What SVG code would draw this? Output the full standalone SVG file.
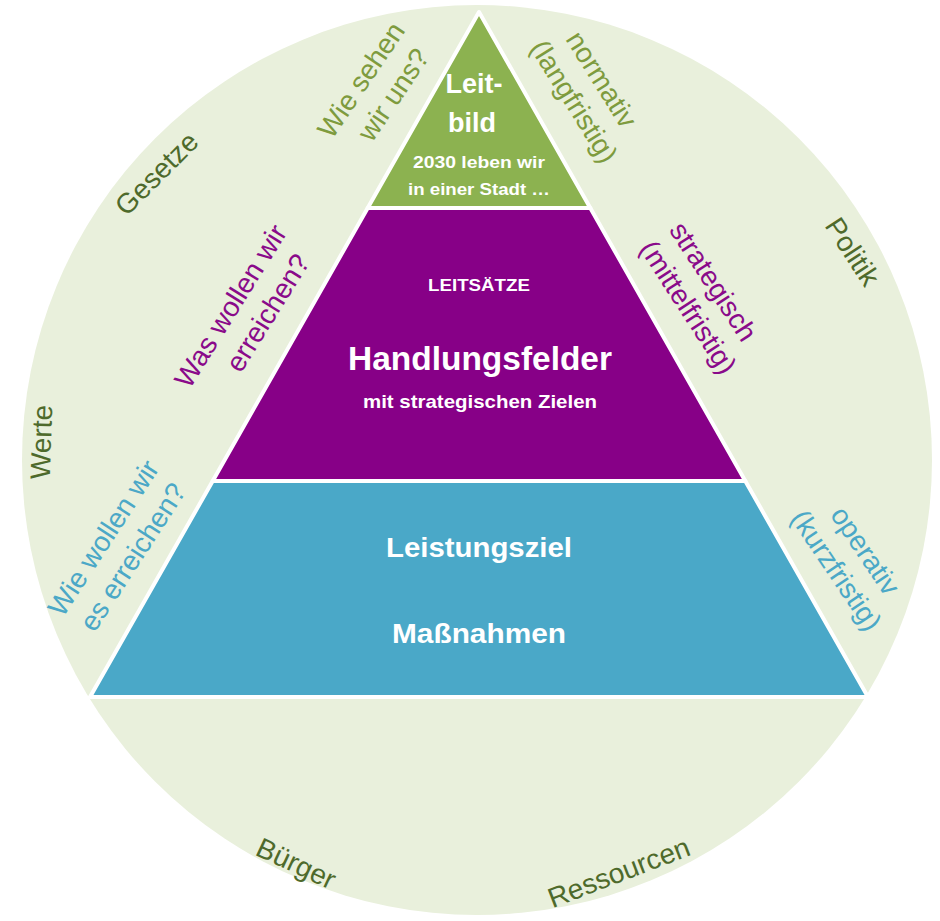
<svg xmlns="http://www.w3.org/2000/svg" width="940" height="921" viewBox="0 0 940 921">
<style>
.t{font-family:"Liberation Sans",Arial,sans-serif;}
.w{fill:#ffffff;font-weight:bold;text-anchor:middle;}
.o{fill:#4e6a2b;font-size:28px;text-anchor:middle;}
.q{font-size:28px;text-anchor:middle;}
.g{fill:#7e9b3e;}
.p{fill:#8a0a8a;}
.b{fill:#4ba8c7;}
.band{stroke:#ffffff;stroke-width:4;stroke-linejoin:round;}
</style>
<rect width="940" height="921" fill="#ffffff"/>
<g id="circle">
<circle cx="477" cy="460" r="455" fill="#e9f0dc"/>
</g>
<g id="leitbild">
<polygon class="band" points="479,12 590.3,208 367.7,208" fill="#8cb250"/>
<text class="t w" x="474" y="93" font-size="27">Leit-</text>
<text class="t w" x="472" y="132" font-size="27">bild</text>
<text class="t w" x="479" y="168" font-size="16" textLength="132" lengthAdjust="spacingAndGlyphs">2030 leben wir</text>
<text class="t w" x="479" y="195" font-size="16" textLength="142" lengthAdjust="spacingAndGlyphs">in einer Stadt …</text>
</g>
<g id="handlungsfelder">
<polygon class="band" points="367.7,208 590.3,208 745.3,481 212.7,481" fill="#870087"/>
<text class="t w" x="479" y="291" font-size="17" textLength="102" lengthAdjust="spacingAndGlyphs">LEITSÄTZE</text>
<text class="t w" x="480" y="370" font-size="33" textLength="264" lengthAdjust="spacingAndGlyphs">Handlungsfelder</text>
<text class="t w" x="480" y="408" font-size="19" textLength="234" lengthAdjust="spacingAndGlyphs">mit strategischen Zielen</text>
</g>
<g id="massnahmen">
<polygon class="band" points="212.7,481 745.3,481 868,697 90,697" fill="#4aa8c8"/>
<text class="t w" x="479" y="557" font-size="27" textLength="186" lengthAdjust="spacingAndGlyphs">Leistungsziel</text>
<text class="t w" x="479" y="643" font-size="27" textLength="174" lengthAdjust="spacingAndGlyphs">Maßnahmen</text>
</g>
<g id="label-wie-sehen" transform="translate(378,88) rotate(-56)">
<text class="t q g" x="-3" y="-9">Wie sehen</text>
<text class="t q g" x="3" y="26">wir uns?</text>
</g>
<g id="label-was-wollen" transform="translate(250,310) rotate(-58)">
<text class="t q p" x="-7" y="-9">Was wollen wir</text>
<text class="t q p" x="7" y="26">erreichen?</text>
</g>
<g id="label-wie-wollen" transform="translate(119,548) rotate(-57)">
<text class="t q b" x="0" y="-9">Wie wollen wir</text>
<text class="t q b" x="0" y="26">es erreichen?</text>
</g>
<g id="label-normativ" transform="translate(587,91) rotate(58)">
<text class="t q g" x="-2" y="-9">normativ</text>
<text class="t q g" x="2" y="26">(langfristig)</text>
</g>
<g id="label-strategisch" transform="translate(700,295) rotate(57)">
<text class="t q p" x="-4" y="-9">strategisch</text>
<text class="t q p" x="4" y="26">(mittelfristig)</text>
</g>
<g id="label-operativ" transform="translate(850,561) rotate(56)">
<text class="t q b" x="0" y="-9">operativ</text>
<text class="t q b" x="0" y="26">(kurzfristig)</text>
</g>
<g id="word-gesetze" transform="translate(157,174) rotate(-45)">
<text class="t o" x="0" y="9">Gesetze</text>
</g>
<g id="word-werte" transform="translate(41,442) rotate(-88)">
<text class="t o" x="0" y="10" font-size="30">Werte</text>
</g>
<g id="word-politik" transform="translate(852,252) rotate(57)">
<text class="t o" x="0" y="9">Politik</text>
</g>
<g id="word-buerger" transform="translate(296,864) rotate(25)">
<text class="t o" x="0" y="9">Bürger</text>
</g>
<g id="word-ressourcen" transform="translate(619,873) rotate(-21)">
<text class="t o" x="0" y="9">Ressourcen</text>
</g>
</svg>
